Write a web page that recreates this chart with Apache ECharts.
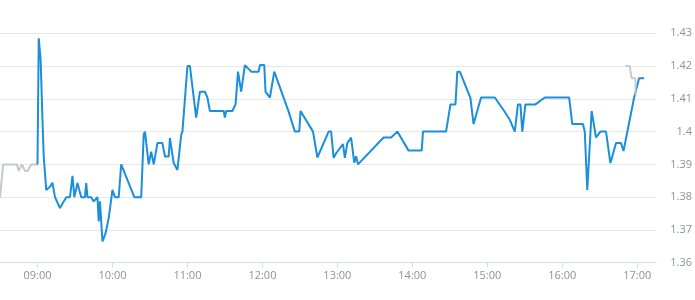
<!DOCTYPE html>
<html>
<head>
<meta charset="utf-8">
<script src="https://cdn.jsdelivr.net/npm/echarts@6/dist/echarts.min.js"></script>
<style>html,body{margin:0;padding:0;background:#fff}#c{width:695px;height:300px}</style>
</head>
<body>
<div id="c"></div>
<script>
// Pre-market (grey)
var preTimes = ['08:30','08:32:30','08:43:30','08:45','08:47:30','08:50','08:52','08:55','09:00'];
var preValues = [1.38, 1.39, 1.39, 1.388, 1.39, 1.388, 1.388, 1.39, 1.39];

// Main session (blue)
var blueTimes = ['09:00','09:01','09:02:30','09:04','09:05','09:06','09:07','09:10','09:12','09:14','09:18','09:23','09:26','09:28','09:29:30','09:32','09:35','09:38','09:39','09:40','09:43','09:45','09:48','09:49','09:50','09:51','09:52','09:54:30','09:57','10:00','10:02','10:05','10:07','10:17:30','10:23','10:25','10:26','10:27','10:29','10:31','10:33','10:36','10:40','10:42','10:45','10:46','10:49','10:50:30','10:52','10:55','10:56','10:57','11:00','11:02','11:07','11:10','11:14','11:16','11:18','11:29','11:30','11:31','11:36','11:38:30','11:39:30','11:40:30','11:43','11:46','11:51','11:57','11:58','12:01:30','12:02:30','12:06','12:09:30','12:21','12:26','12:29:30','12:30:30','12:40:30','12:44','12:45','12:53','12:55','12:57','12:59','13:04:30','13:06','13:08','13:11','13:13:30','13:15','13:16:30','13:37','13:43','13:48','13:57','14:07:30','14:08:30','14:27','14:30:30','14:34:30','14:36','14:38','14:45:30','14:46:30','14:49','14:55','15:06','15:13:30','15:18','15:22','15:24:30','15:26:30','15:28','15:30:30','15:38:30','15:46','16:05:30','16:08','16:16:30','16:18','16:20','16:23:30','16:27','16:30:30','16:35','16:38:30','16:43','16:47','16:49','16:57:30','17:01:30','17:05:30'];
var blueValues = [1.39, 1.4285, 1.422, 1.4036, 1.3924, 1.3924, 1.3822, 1.3832, 1.3844, 1.38, 1.3767, 1.38, 1.38, 1.3865, 1.38, 1.3843, 1.38, 1.38, 1.3843, 1.38, 1.38, 1.3787, 1.38, 1.3726, 1.3787, 1.3787, 1.3665, 1.369, 1.3736, 1.3822, 1.38, 1.38, 1.39, 1.38, 1.38, 1.399, 1.40, 1.40, 1.39, 1.3939, 1.39, 1.3965, 1.3965, 1.3924, 1.3924, 1.398, 1.3904, 1.3904, 1.3883, 1.399, 1.40, 1.40, 1.42, 1.42, 1.4043, 1.4122, 1.4122, 1.4104, 1.4063, 1.4063, 1.4043, 1.4063, 1.4063, 1.4083, 1.4083, 1.4183, 1.4122, 1.4203, 1.4183, 1.4183, 1.4203, 1.4203, 1.4122, 1.4104, 1.4183, 1.4061, 1.40, 1.40, 1.4063, 1.40, 1.3921, 1.3921, 1.40, 1.40, 1.392, 1.3934, 1.3962, 1.392, 1.3965, 1.3982, 1.3905, 1.3925, 1.39, 1.3982, 1.3982, 1.40, 1.3942, 1.3942, 1.40, 1.40, 1.4083, 1.4083, 1.4183, 1.4183, 1.4112, 1.4102, 1.4023, 1.4104, 1.4104, 1.4063, 1.4036, 1.40, 1.4083, 1.4083, 1.40, 1.4083, 1.4083, 1.4104, 1.4104, 1.4023, 1.4023, 1.40, 1.3822, 1.4063, 1.3982, 1.40, 1.40, 1.3904, 1.3965, 1.3965, 1.3941, 1.4104, 1.4163, 1.4163];

// After-hours (grey)
var postTimes = ['16:50:30','16:54','16:55:30','16:58:30','16:58:45'];
var postValues = [1.42, 1.42, 1.4163, 1.4163, 1.411];

// Axis labels
var xTickLabels = ['09:00','10:00','11:00','12:00','13:00','14:00','15:00','16:00','17:00'];
var xStart = '08:30', xEnd = '17:15';
var yMin = 1.36, yMax = 1.43, yStep = 0.01;

function toMin(t) {
  var p = t.split(':').map(Number);
  return p[0] * 60 + p[1] + (p[2] || 0) / 60;
}
function pad(n) { return (n < 10 ? '0' : '') + n; }
function fmt(m) { return pad(Math.floor(m / 60)) + ':' + pad(Math.round(m % 60)); }
function pairs(ts, vs) { return ts.map(function (t, i) { return [toMin(t), vs[i]]; }); }

var tickMins = xTickLabels.map(toMin);
var font = '"Open Sans", "Noto Sans", sans-serif';

var chart = echarts.init(document.getElementById('c'), null, { renderer: 'canvas' });
chart.setOption({
  animation: false,
  backgroundColor: '#ffffff',
  grid: { left: 0, right: 31, top: 33.3, bottom: 37.3 },
  xAxis: {
    type: 'value',
    min: toMin(xStart),
    max: toMin(xEnd),
    axisLine: { show: true, lineStyle: { color: '#d6dbe1', width: 1 } },
    axisTick: { show: true, customValues: tickMins, length: 5, lineStyle: { color: '#d6dbe1' } },
    axisLabel: {
      customValues: tickMins,
      formatter: function (v) { return fmt(v); },
      color: '#8a939c', fontSize: 11, fontFamily: font, margin: 8
    },
    splitLine: { show: false }
  },
  yAxis: {
    type: 'value',
    position: 'right',
    min: yMin, max: yMax, interval: yStep,
    axisLine: { show: false },
    axisTick: { show: false },
    axisLabel: { color: '#8a939c', fontSize: 11, fontFamily: font, align: 'right', margin: 36 },
    splitLine: { show: true, lineStyle: { color: '#e6e8eb', width: 1 } }
  },
  series: [
    { type: 'line', data: pairs(preTimes, preValues), showSymbol: false, lineStyle: { color: '#c4c7cb', width: 2 }, itemStyle: { color: '#c4c7cb' } },
    { type: 'line', data: pairs(blueTimes, blueValues), showSymbol: false, lineStyle: { color: '#1a8fdb', width: 2 }, itemStyle: { color: '#1a8fdb' } },
    { type: 'line', data: pairs(postTimes, postValues), showSymbol: false, lineStyle: { color: '#c4c7cb', width: 2, opacity: 0.9 }, itemStyle: { color: '#c4c7cb' } }
  ]
});
</script>
</body>
</html>
